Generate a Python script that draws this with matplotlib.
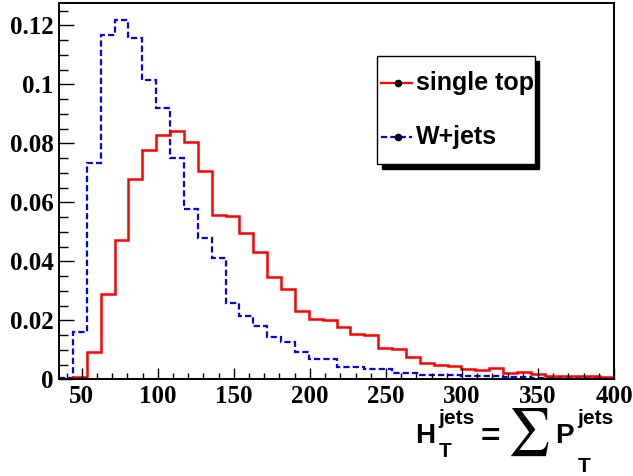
import numpy as np
import matplotlib
matplotlib.use("Agg")
import matplotlib.pyplot as plt
from matplotlib.patches import Rectangle
from matplotlib.lines import Line2D

# histogram binning: 40 bins between 35 and 400
x_lo, x_hi, n_bins = 35, 400, 40
edges = np.linspace(x_lo, x_hi, n_bins + 1)

single_top = [0.0002, 0.0009, 0.0094, 0.0289, 0.0471, 0.0679, 0.0777, 0.0828, 0.0842, 0.0805,
              0.0705, 0.0558, 0.0554, 0.0497, 0.0432, 0.0346, 0.0306, 0.0233, 0.0203, 0.0201,
              0.0176, 0.0153, 0.0151, 0.0107, 0.0103, 0.0075, 0.0054, 0.0048, 0.0044, 0.0036,
              0.0030, 0.0037, 0.0022, 0.0026, 0.0018, 0.0011, 0.0011, 0.0012, 0.0012, 0.0008]

w_jets = [0.0003, 0.0159, 0.0732, 0.1167, 0.1218, 0.1156, 0.1015, 0.0921, 0.0749, 0.0577,
          0.0479, 0.0412, 0.0259, 0.0216, 0.0181, 0.0144, 0.0125, 0.0092, 0.0068, 0.0068,
          0.0043, 0.0043, 0.0034, 0.0034, 0.0020, 0.0020, 0.0015, 0.0015, 0.0014, 0.0012,
          0.0010, 0.0010, 0.0009, 0.0008, 0.0006, 0.0006, 0.0005, 0.0005, 0.0004, 0.0004]

x_ticks = [50, 100, 150, 200, 250, 300, 350, 400]
y_ticks = [0, 0.02, 0.04, 0.06, 0.08, 0.1, 0.12]
y_tick_labels = ["0", "0.02", "0.04", "0.06", "0.08", "0.1", "0.12"]
labels = ["single top", "W+jets"]

W, H = 633, 476


def fx(px):
    return px / W


def fy(py):
    return 1 - py / H


fig = plt.figure(figsize=(W / 100, H / 100), dpi=100)
ax = fig.add_axes([fx(59), fy(379.3), fx(614) - fx(59), fy(3) - fy(379.3)])

ax.stairs(w_jets, edges, baseline=None, color="blue", lw=1.6, linestyle=(0, (2.8, 1.4)))
ax.stairs(single_top, edges, baseline=None, color="red", lw=1.8)

ax.set_xlim(x_lo, x_hi)
ax.set_ylim(0, 0.1276)

ax.set_xticks(x_ticks)
ax.set_xticks(np.arange(40, 400, 10), minor=True)
ax.set_yticks(y_ticks)
ax.set_yticklabels(y_tick_labels)
ax.set_yticks(np.arange(0, 0.1276, 0.005), minor=True)

tick_font = dict(family="Liberation Serif", weight="bold", size=18)
for lab in ax.get_xticklabels() + ax.get_yticklabels():
    lab.set_fontproperties(matplotlib.font_manager.FontProperties(**tick_font))

ax.tick_params(axis="y", which="major", direction="in", length=10.8, width=1, pad=4)
ax.tick_params(axis="y", which="minor", direction="in", length=6.5, width=1)
ax.tick_params(axis="x", which="major", direction="in", length=7.9, width=1, pad=4)
ax.tick_params(axis="x", which="minor", direction="in", length=4.3, width=1)
for s in ax.spines.values():
    s.set_linewidth(1.4)

# legend box with black shadow
sans = dict(family="Liberation Sans", weight="bold")
fig.patches.append(Rectangle((fx(382), fy(169)), fx(539) - fx(382), fy(61) - fy(169),
                             transform=fig.transFigure, facecolor="black", edgecolor="black",
                             zorder=5))
fig.patches.append(Rectangle((fx(376.7), fy(164)), fx(535) - fx(376.7), fy(55.7) - fy(164),
                             transform=fig.transFigure, facecolor="white", edgecolor="black",
                             lw=1, zorder=6))
for i, (lab, col, ls) in enumerate(zip(labels, ["red", "blue"], ["-", (0, (2.8, 1.4))])):
    yc = 83 + 54 * i
    fig.lines.append(Line2D([fx(380.7), fx(411.7)], [fy(yc), fy(yc)], transform=fig.transFigure,
                            color=col, lw=1.6, linestyle=ls, zorder=7))
    fig.lines.append(Line2D([fx(398)], [fy(yc)], transform=fig.transFigure, marker="o",
                            markersize=4.5, color="black", zorder=8))
    fig.text(fx(416), fy(yc), lab, fontsize=18, va="center", ha="left", zorder=8, **sans)

# axis title  H_T^jets = sum P_T^jets
fig.text(fx(415), fy(443), "H", fontsize=20, va="baseline", **sans)
fig.text(fx(438), fy(424), "jets", fontsize=15, va="baseline", **sans)
fig.text(fx(439), fy(457), "T", fontsize=15, va="baseline", **sans)
fig.text(fx(490), fy(437), "=", fontsize=24, va="center", ha="center", **sans)
fig.text(fx(528), fy(432), r"$\sum$", fontsize=34, va="center", ha="center",
         math_fontfamily="stix")
fig.text(fx(555), fy(443), "P", fontsize=20, va="baseline", **sans)
fig.text(fx(577), fy(424), "jets", fontsize=15, va="baseline", **sans)
fig.text(fx(578), fy(472), "T", fontsize=15, va="baseline", **sans)

fig.savefig("out.png", dpi=100)
